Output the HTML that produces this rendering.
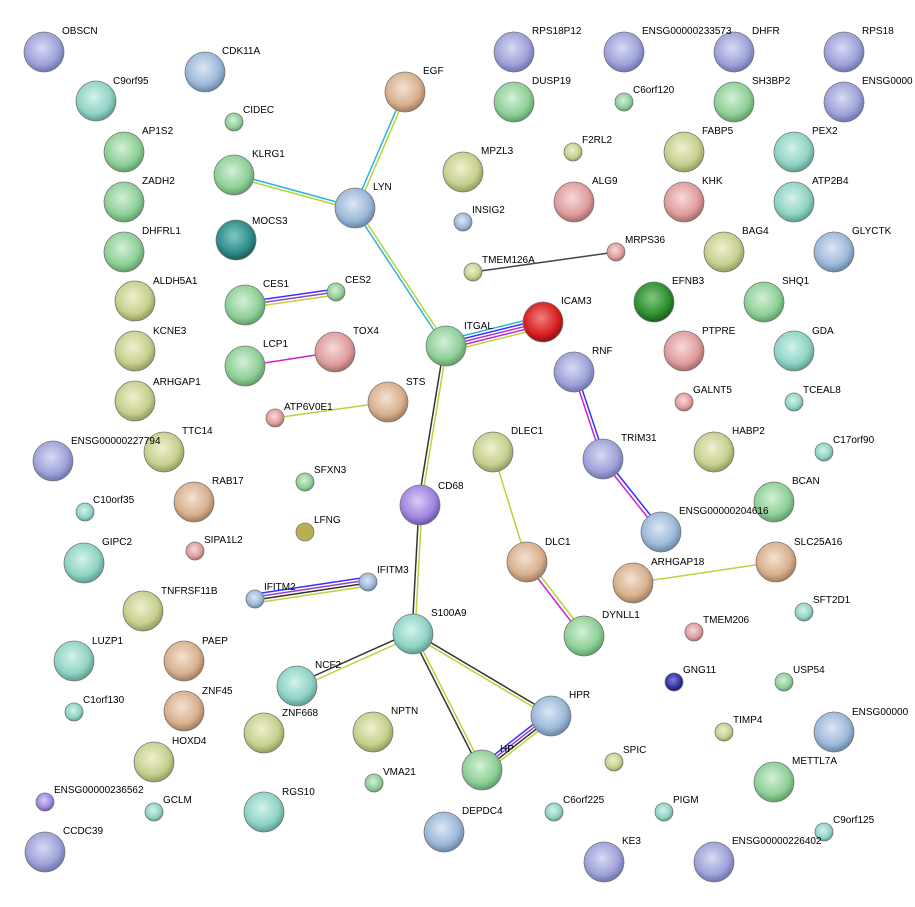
<!DOCTYPE html>
<html><head><meta charset="utf-8"><style>
html,body{margin:0;padding:0;background:#fff;}
svg{display:block;}
text{font-family:"Liberation Sans",Arial,sans-serif;font-size:10px;fill:#000;}
</style></head><body>
<svg width="915" height="907" viewBox="0 0 915 907" xmlns="http://www.w3.org/2000/svg">
<defs>
<radialGradient id="lav" cx="45%" cy="40%" r="60%"><stop offset="0" stop-color="#d8daf4"/><stop offset="0.7" stop-color="#9ea2d8"/><stop offset="1" stop-color="#6f73b0"/></radialGradient>
<radialGradient id="grn" cx="45%" cy="40%" r="60%"><stop offset="0" stop-color="#d4f0d6"/><stop offset="0.7" stop-color="#8fcf98"/><stop offset="1" stop-color="#5e9e68"/></radialGradient>
<radialGradient id="olv" cx="45%" cy="40%" r="60%"><stop offset="0" stop-color="#eef0d0"/><stop offset="0.7" stop-color="#c7cf8e"/><stop offset="1" stop-color="#949c5e"/></radialGradient>
<radialGradient id="tea" cx="45%" cy="40%" r="60%"><stop offset="0" stop-color="#d4f2ec"/><stop offset="0.7" stop-color="#8fd3c4"/><stop offset="1" stop-color="#5c9e90"/></radialGradient>
<radialGradient id="tan" cx="45%" cy="40%" r="60%"><stop offset="0" stop-color="#f4e2d2"/><stop offset="0.7" stop-color="#d8b08e"/><stop offset="1" stop-color="#a27c5e"/></radialGradient>
<radialGradient id="pnk" cx="45%" cy="40%" r="60%"><stop offset="0" stop-color="#f6dada"/><stop offset="0.7" stop-color="#df9c9c"/><stop offset="1" stop-color="#a86a6a"/></radialGradient>
<radialGradient id="blu" cx="45%" cy="40%" r="60%"><stop offset="0" stop-color="#dce8f4"/><stop offset="0.7" stop-color="#9cb8d8"/><stop offset="1" stop-color="#6a86a6"/></radialGradient>
<radialGradient id="red" cx="45%" cy="40%" r="60%"><stop offset="0" stop-color="#f08080"/><stop offset="0.7" stop-color="#d82020"/><stop offset="1" stop-color="#901010"/></radialGradient>
<radialGradient id="dtl" cx="45%" cy="40%" r="60%"><stop offset="0" stop-color="#80c8c4"/><stop offset="0.7" stop-color="#2e8d8a"/><stop offset="1" stop-color="#1a5c5a"/></radialGradient>
<radialGradient id="dgr" cx="45%" cy="40%" r="60%"><stop offset="0" stop-color="#80c880"/><stop offset="0.7" stop-color="#2f8f2f"/><stop offset="1" stop-color="#1a5a1a"/></radialGradient>
<radialGradient id="nav" cx="45%" cy="40%" r="60%"><stop offset="0" stop-color="#8080d8"/><stop offset="0.7" stop-color="#3030a0"/><stop offset="1" stop-color="#1a1a60"/></radialGradient>
<radialGradient id="pur" cx="45%" cy="40%" r="60%"><stop offset="0" stop-color="#d8ccf6"/><stop offset="0.7" stop-color="#9f85e0"/><stop offset="1" stop-color="#6a54a8"/></radialGradient>
<linearGradient id="hl" x1="0" y1="0" x2="0" y2="1"><stop offset="0" stop-color="#fff" stop-opacity="0.9"/><stop offset="1" stop-color="#fff" stop-opacity="0"/></linearGradient>
</defs>

<g fill="none" stroke-width="1.5">
<!-- EGF-LYN -->
<line x1="404" y1="92" x2="354" y2="208" stroke="#29b6d6"/>
<line x1="407" y1="93" x2="357" y2="209" stroke="#b5d53a"/>
<!-- KLRG1-LYN -->
<line x1="234" y1="174" x2="355" y2="207" stroke="#29b6d6"/>
<line x1="234" y1="177" x2="355" y2="210" stroke="#b5d53a"/>
<!-- LYN-ITGAL -->
<line x1="354" y1="209" x2="445" y2="347" stroke="#29b6d6"/>
<line x1="357" y1="208" x2="448" y2="346" stroke="#b5d53a"/>
<!-- CES1-CES2 -->
<line x1="245" y1="302" x2="336" y2="289" stroke="#3333ff"/>
<line x1="245" y1="305" x2="336" y2="292" stroke="#a040c0"/>
<line x1="245" y1="308" x2="336" y2="295" stroke="#b5d53a"/>
<!-- LCP1-TOX4 -->
<line x1="245" y1="366" x2="335" y2="352" stroke="#d020d0"/>
<!-- ATP6V0E1-STS -->
<line x1="275" y1="418" x2="388" y2="402" stroke="#b5d53a"/>
<!-- ITGAL-ICAM3 -->
<line x1="446" y1="340" x2="543" y2="316" stroke="#29b6d6"/>
<line x1="446" y1="343" x2="543" y2="319" stroke="#3333ff"/>
<line x1="446" y1="346" x2="543" y2="322" stroke="#a040c0"/>
<line x1="446" y1="349" x2="543" y2="325" stroke="#d020d0"/>
<line x1="446" y1="352" x2="543" y2="328" stroke="#b5d53a"/>
<!-- TMEM126A-MRPS36 -->
<line x1="473" y1="272" x2="616" y2="252" stroke="#444"/>
<!-- ITGAL-CD68 -->
<line x1="444" y1="346" x2="418" y2="505" stroke="#333"/>
<line x1="447" y1="346" x2="421" y2="505" stroke="#b5d53a"/>
<!-- CD68-S100A9 -->
<line x1="419" y1="505" x2="412" y2="634" stroke="#333"/>
<line x1="422" y1="505" x2="415" y2="634" stroke="#b5d53a"/>
<!-- IFITM2-IFITM3 -->
<line x1="255" y1="594" x2="368" y2="577" stroke="#3333ff"/>
<line x1="255" y1="597" x2="368" y2="580" stroke="#a040c0"/>
<line x1="255" y1="600" x2="368" y2="583" stroke="#333"/>
<line x1="255" y1="603" x2="368" y2="586" stroke="#b5d53a"/>
<!-- S100A9-NCF2 -->
<line x1="412" y1="632" x2="296" y2="684" stroke="#333"/>
<line x1="414" y1="636" x2="298" y2="688" stroke="#b5d53a"/>
<!-- S100A9-HP -->
<line x1="411" y1="634" x2="480" y2="770" stroke="#333"/>
<line x1="414" y1="633" x2="483" y2="769" stroke="#b5d53a"/>
<!-- S100A9-HPR -->
<line x1="413" y1="632" x2="551" y2="714" stroke="#333"/>
<line x1="412" y1="635" x2="550" y2="717" stroke="#b5d53a"/>
<!-- HPR-HP -->
<line x1="549" y1="712" x2="480" y2="766" stroke="#3333ff"/>
<line x1="551" y1="714" x2="482" y2="768" stroke="#a040c0"/>
<line x1="553" y1="716" x2="484" y2="770" stroke="#333"/>
<line x1="555" y1="718" x2="486" y2="772" stroke="#b5d53a"/>
<!-- RNF-TRIM31 -->
<line x1="573" y1="372" x2="602" y2="459" stroke="#d020d0"/>
<line x1="576" y1="371" x2="605" y2="458" stroke="#3333ff"/>
<!-- TRIM31-ENSG204616 -->
<line x1="602" y1="460" x2="660" y2="533" stroke="#d020d0"/>
<line x1="605" y1="458" x2="663" y2="531" stroke="#3333ff"/>
<!-- DLEC1-DLC1 -->
<line x1="493" y1="452" x2="527" y2="562" stroke="#b5d53a"/>
<!-- DLC1-DYNLL1 -->
<line x1="526" y1="563" x2="583" y2="637" stroke="#d020d0"/>
<line x1="529" y1="561" x2="586" y2="635" stroke="#b5d53a"/>
<!-- ARHGAP18-SLC25A16 -->
<line x1="633" y1="583" x2="776" y2="562" stroke="#b5d53a"/>
</g>

<g stroke="#777" stroke-width="0.8">
<!-- big nodes r=20 -->
<circle cx="44" cy="52" r="20" fill="url(#lav)"/>
<circle cx="96" cy="101" r="20" fill="url(#tea)"/>
<circle cx="205" cy="72" r="20" fill="url(#blu)"/>
<circle cx="124" cy="152" r="20" fill="url(#grn)"/>
<circle cx="124" cy="202" r="20" fill="url(#grn)"/>
<circle cx="124" cy="252" r="20" fill="url(#grn)"/>
<circle cx="234" cy="175" r="20" fill="url(#grn)"/>
<circle cx="236" cy="240" r="20" fill="url(#dtl)"/>
<circle cx="355" cy="208" r="20" fill="url(#blu)"/>
<circle cx="405" cy="92" r="20" fill="url(#tan)"/>
<circle cx="135" cy="301" r="20" fill="url(#olv)"/>
<circle cx="245" cy="305" r="20" fill="url(#grn)"/>
<circle cx="135" cy="351" r="20" fill="url(#olv)"/>
<circle cx="245" cy="366" r="20" fill="url(#grn)"/>
<circle cx="335" cy="352" r="20" fill="url(#pnk)"/>
<circle cx="135" cy="401" r="20" fill="url(#olv)"/>
<circle cx="388" cy="402" r="20" fill="url(#tan)"/>
<circle cx="446" cy="346" r="20" fill="url(#grn)"/>
<circle cx="543" cy="322" r="20" fill="url(#red)"/>
<circle cx="53" cy="461" r="20" fill="url(#lav)"/>
<circle cx="164" cy="452" r="20" fill="url(#olv)"/>
<circle cx="194" cy="502" r="20" fill="url(#tan)"/>
<circle cx="420" cy="505" r="20" fill="url(#pur)"/>
<circle cx="84" cy="563" r="20" fill="url(#tea)"/>
<circle cx="143" cy="611" r="20" fill="url(#olv)"/>
<circle cx="74" cy="661" r="20" fill="url(#tea)"/>
<circle cx="184" cy="661" r="20" fill="url(#tan)"/>
<circle cx="413" cy="634" r="20" fill="url(#tea)"/>
<circle cx="297" cy="686" r="20" fill="url(#tea)"/>
<circle cx="184" cy="711" r="20" fill="url(#tan)"/>
<circle cx="373" cy="732" r="20" fill="url(#olv)"/>
<circle cx="154" cy="762" r="20" fill="url(#olv)"/>
<circle cx="264" cy="733" r="20" fill="url(#olv)"/>
<circle cx="264" cy="812" r="20" fill="url(#tea)"/>
<circle cx="45" cy="852" r="20" fill="url(#lav)"/>
<circle cx="551" cy="716" r="20" fill="url(#blu)"/>
<circle cx="482" cy="770" r="20" fill="url(#grn)"/>
<circle cx="444" cy="832" r="20" fill="url(#blu)"/>
<circle cx="604" cy="862" r="20" fill="url(#lav)"/>
<circle cx="714" cy="862" r="20" fill="url(#lav)"/>
<circle cx="774" cy="782" r="20" fill="url(#grn)"/>
<circle cx="834" cy="732" r="20" fill="url(#blu)"/>
<circle cx="584" cy="636" r="20" fill="url(#grn)"/>
<circle cx="633" cy="583" r="20" fill="url(#tan)"/>
<circle cx="776" cy="562" r="20" fill="url(#tan)"/>
<circle cx="527" cy="562" r="20" fill="url(#tan)"/>
<circle cx="493" cy="452" r="20" fill="url(#olv)"/>
<circle cx="603" cy="459" r="20" fill="url(#lav)"/>
<circle cx="661" cy="532" r="20" fill="url(#blu)"/>
<circle cx="774" cy="502" r="20" fill="url(#grn)"/>
<circle cx="714" cy="452" r="20" fill="url(#olv)"/>
<circle cx="574" cy="372" r="20" fill="url(#lav)"/>
<circle cx="684" cy="351" r="20" fill="url(#pnk)"/>
<circle cx="794" cy="351" r="20" fill="url(#tea)"/>
<circle cx="654" cy="302" r="20" fill="url(#dgr)"/>
<circle cx="764" cy="302" r="20" fill="url(#grn)"/>
<circle cx="724" cy="252" r="20" fill="url(#olv)"/>
<circle cx="834" cy="252" r="20" fill="url(#blu)"/>
<circle cx="574" cy="202" r="20" fill="url(#pnk)"/>
<circle cx="684" cy="202" r="20" fill="url(#pnk)"/>
<circle cx="794" cy="202" r="20" fill="url(#tea)"/>
<circle cx="463" cy="172" r="20" fill="url(#olv)"/>
<circle cx="684" cy="152" r="20" fill="url(#olv)"/>
<circle cx="794" cy="152" r="20" fill="url(#tea)"/>
<circle cx="514" cy="102" r="20" fill="url(#grn)"/>
<circle cx="734" cy="102" r="20" fill="url(#grn)"/>
<circle cx="844" cy="102" r="20" fill="url(#lav)"/>
<circle cx="514" cy="52" r="20" fill="url(#lav)"/>
<circle cx="624" cy="52" r="20" fill="url(#lav)"/>
<circle cx="734" cy="52" r="20" fill="url(#lav)"/>
<circle cx="844" cy="52" r="20" fill="url(#lav)"/>
<!-- small nodes r=9 -->
<circle cx="234" cy="122" r="9" fill="url(#grn)"/>
<circle cx="336" cy="292" r="9" fill="url(#grn)"/>
<circle cx="275" cy="418" r="9" fill="url(#pnk)"/>
<circle cx="305" cy="482" r="9" fill="url(#grn)"/>
<circle cx="85" cy="512" r="9" fill="url(#tea)"/>
<circle cx="305" cy="532" r="9" fill="#b8b050"/>
<circle cx="195" cy="551" r="9" fill="url(#pnk)"/>
<circle cx="255" cy="599" r="9" fill="url(#blu)"/>
<circle cx="368" cy="582" r="9" fill="url(#blu)"/>
<circle cx="74" cy="712" r="9" fill="url(#tea)"/>
<circle cx="374" cy="783" r="9" fill="url(#grn)"/>
<circle cx="45" cy="802" r="9" fill="url(#pur)"/>
<circle cx="154" cy="812" r="9" fill="url(#tea)"/>
<circle cx="614" cy="762" r="9" fill="url(#olv)"/>
<circle cx="554" cy="812" r="9" fill="url(#tea)"/>
<circle cx="664" cy="812" r="9" fill="url(#tea)"/>
<circle cx="824" cy="832" r="9" fill="url(#tea)"/>
<circle cx="724" cy="732" r="9" fill="url(#olv)"/>
<circle cx="674" cy="682" r="9" fill="url(#nav)"/>
<circle cx="784" cy="682" r="9" fill="url(#grn)"/>
<circle cx="694" cy="632" r="9" fill="url(#pnk)"/>
<circle cx="804" cy="612" r="9" fill="url(#tea)"/>
<circle cx="824" cy="452" r="9" fill="url(#tea)"/>
<circle cx="684" cy="402" r="9" fill="url(#pnk)"/>
<circle cx="794" cy="402" r="9" fill="url(#tea)"/>
<circle cx="616" cy="252" r="9" fill="url(#pnk)"/>
<circle cx="473" cy="272" r="9" fill="url(#olv)"/>
<circle cx="463" cy="222" r="9" fill="url(#blu)"/>
<circle cx="573" cy="152" r="9" fill="url(#olv)"/>
<circle cx="624" cy="102" r="9" fill="url(#grn)"/>
</g>

<g>
<text x="62" y="34">OBSCN</text>
<text x="113" y="84">C9orf95</text>
<text x="222" y="54">CDK11A</text>
<text x="243" y="113">CIDEC</text>
<text x="142" y="134">AP1S2</text>
<text x="142" y="184">ZADH2</text>
<text x="142" y="234">DHFRL1</text>
<text x="252" y="157">KLRG1</text>
<text x="252" y="224">MOCS3</text>
<text x="373" y="190">LYN</text>
<text x="423" y="74">EGF</text>
<text x="153" y="284">ALDH5A1</text>
<text x="263" y="287">CES1</text>
<text x="345" y="283">CES2</text>
<text x="153" y="334">KCNE3</text>
<text x="263" y="347">LCP1</text>
<text x="353" y="334">TOX4</text>
<text x="153" y="385">ARHGAP1</text>
<text x="284" y="410">ATP6V0E1</text>
<text x="406" y="385">STS</text>
<text x="464" y="329">ITGAL</text>
<text x="561" y="304">ICAM3</text>
<text x="71" y="444">ENSG00000227794</text>
<text x="182" y="434">TTC14</text>
<text x="314" y="473">SFXN3</text>
<text x="93" y="503">C10orf35</text>
<text x="212" y="484">RAB17</text>
<text x="314" y="523">LFNG</text>
<text x="438" y="489">CD68</text>
<text x="204" y="543">SIPA1L2</text>
<text x="102" y="545">GIPC2</text>
<text x="264" y="590">IFITM2</text>
<text x="377" y="573">IFITM3</text>
<text x="161" y="594">TNFRSF11B</text>
<text x="92" y="644">LUZP1</text>
<text x="202" y="644">PAEP</text>
<text x="431" y="616">S100A9</text>
<text x="315" y="668">NCF2</text>
<text x="83" y="703">C1orf130</text>
<text x="202" y="694">ZNF45</text>
<text x="391" y="714">NPTN</text>
<text x="172" y="744">HOXD4</text>
<text x="282" y="716">ZNF668</text>
<text x="383" y="775">VMA21</text>
<text x="54" y="793">ENSG00000236562</text>
<text x="163" y="803">GCLM</text>
<text x="282" y="795">RGS10</text>
<text x="63" y="834">CCDC39</text>
<text x="569" y="698">HPR</text>
<text x="500" y="752">HP</text>
<text x="462" y="814">DEPDC4</text>
<text x="623" y="753">SPIC</text>
<text x="563" y="803">C6orf225</text>
<text x="673" y="803">PIGM</text>
<text x="622" y="844">KE3</text>
<text x="732" y="844">ENSG00000226402</text>
<text x="833" y="823">C9orf125</text>
<text x="792" y="764">METTL7A</text>
<text x="733" y="723">TIMP4</text>
<text x="852" y="715">ENSG00000</text>
<text x="683" y="673">GNG11</text>
<text x="793" y="673">USP54</text>
<text x="703" y="623">TMEM206</text>
<text x="813" y="603">SFT2D1</text>
<text x="602" y="618">DYNLL1</text>
<text x="651" y="565">ARHGAP18</text>
<text x="794" y="545">SLC25A16</text>
<text x="545" y="545">DLC1</text>
<text x="511" y="434">DLEC1</text>
<text x="621" y="441">TRIM31</text>
<text x="679" y="514">ENSG00000204616</text>
<text x="792" y="484">BCAN</text>
<text x="833" y="443">C17orf90</text>
<text x="732" y="434">HABP2</text>
<text x="693" y="393">GALNT5</text>
<text x="803" y="393">TCEAL8</text>
<text x="592" y="354">RNF</text>
<text x="702" y="334">PTPRE</text>
<text x="812" y="334">GDA</text>
<text x="672" y="284">EFNB3</text>
<text x="782" y="284">SHQ1</text>
<text x="742" y="234">BAG4</text>
<text x="852" y="234">GLYCTK</text>
<text x="625" y="243">MRPS36</text>
<text x="482" y="263">TMEM126A</text>
<text x="472" y="213">INSIG2</text>
<text x="592" y="184">ALG9</text>
<text x="702" y="184">KHK</text>
<text x="812" y="184">ATP2B4</text>
<text x="481" y="154">MPZL3</text>
<text x="582" y="143">F2RL2</text>
<text x="702" y="134">FABP5</text>
<text x="812" y="134">PEX2</text>
<text x="532" y="84">DUSP19</text>
<text x="633" y="93">C6orf120</text>
<text x="752" y="84">SH3BP2</text>
<text x="862" y="84">ENSG0000</text>
<text x="532" y="34">RPS18P12</text>
<text x="642" y="34">ENSG00000233573</text>
<text x="752" y="34">DHFR</text>
<text x="862" y="34">RPS18</text>
</g>
</svg>
</body></html>
